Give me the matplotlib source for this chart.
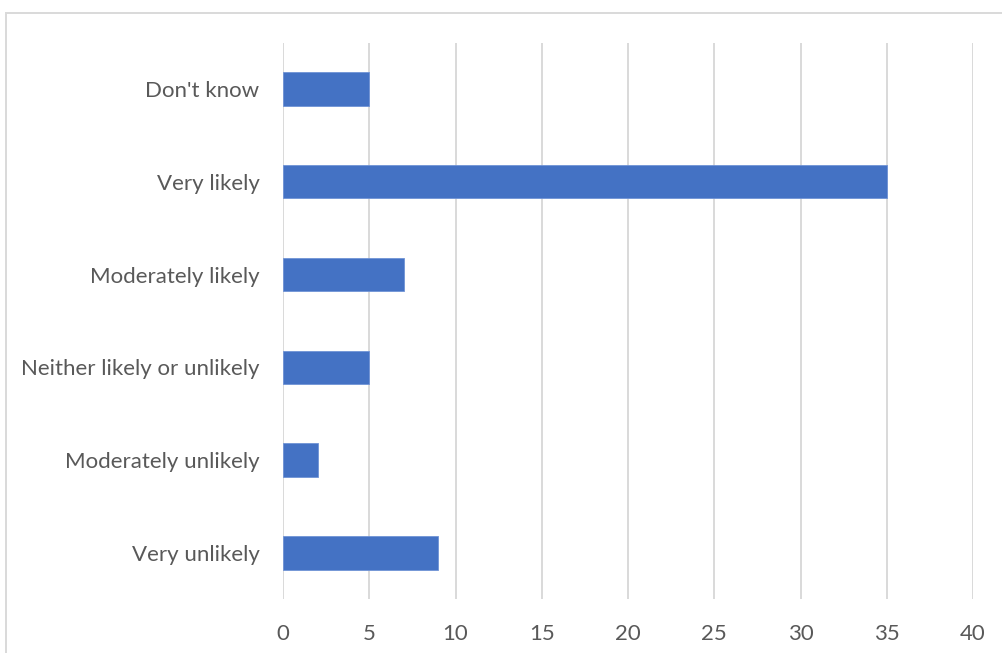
import matplotlib
matplotlib.use("Agg")
import matplotlib.pyplot as plt
from matplotlib.patches import Rectangle

categories = ["Very unlikely", "Moderately unlikely", "Neither likely or unlikely",
              "Moderately likely", "Very likely", "Don't know"]
counts = [9, 2, 5, 7, 35, 5]
x_ticks = [0, 5, 10, 15, 20, 25, 30, 35, 40]

plt.rcParams["font.family"] = ["Lato", "DejaVu Sans"]

fig = plt.figure(figsize=(10.03, 6.53), dpi=100)
ax = fig.add_axes([0.2822, 0.0821, 0.6879, 0.8527])

ypos = range(len(categories))
ax.barh(ypos, counts, height=0.36, color="#4472C4", edgecolor="#6f93d6",
        linewidth=0.6, zorder=3)

ax.set_xlim(0, 40)
ax.set_ylim(-0.5, len(categories) - 0.5)
ax.set_xticks(x_ticks)
ax.set_xticklabels([str(t) for t in x_ticks])
ax.set_yticks(list(ypos))
ax.set_yticklabels(categories)

ax.grid(axis="x", color="#d9d9d9", linewidth=1.4, zorder=0)
ax.grid(axis="y", visible=False)
for s in ax.spines.values():
    s.set_visible(False)

ax.tick_params(axis="both", length=0, labelsize=16, labelcolor="#595959")
ax.tick_params(axis="y", pad=17)
ax.tick_params(axis="x", pad=18)

# chart border
fig.patches.append(Rectangle((6 / 1003, -0.1), 1.2, 1 - 13 / 653 + 0.1,
                             transform=fig.transFigure, fill=False,
                             edgecolor="#d9d9d9", linewidth=1.4))

fig.savefig("out.png", dpi=100)
